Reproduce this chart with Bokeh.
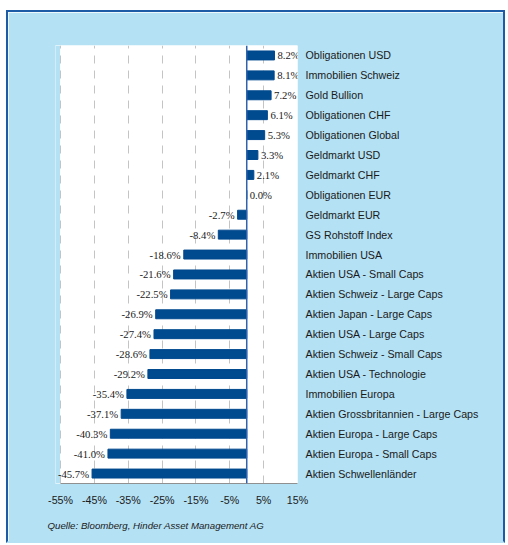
from bokeh.plotting import figure
from bokeh.models import ColumnDataSource, FactorRange, FixedTicker, Span, LabelSet, BoxAnnotation, Title
from bokeh.embed import file_html
from bokeh.resources import INLINE

categories = [
    "Obligationen USD", "Immobilien Schweiz", "Gold Bullion", "Obligationen CHF",
    "Obligationen Global", "Geldmarkt USD", "Geldmarkt CHF", "Obligationen EUR",
    "Geldmarkt EUR", "GS Rohstoff Index", "Immobilien USA", "Aktien USA - Small Caps",
    "Aktien Schweiz - Large Caps", "Aktien Japan - Large Caps", "Aktien USA - Large Caps",
    "Aktien Schweiz - Small Caps", "Aktien USA - Technologie", "Immobilien Europa",
    "Aktien Grossbritannien - Large Caps", "Aktien Europa - Large Caps",
    "Aktien Europa - Small Caps", "Aktien Schwellenländer",
]
values = [8.2, 8.1, 7.2, 6.1, 5.3, 3.3, 2.1, 0.0, -2.7, -8.4, -18.6, -21.6, -22.5,
          -26.9, -27.4, -28.6, -29.2, -35.4, -37.1, -40.3, -41.0, -45.7]
tick_values = [-55, -45, -35, -25, -15, -5, 5, 15]
tick_labels = ["-55%", "-45%", "-35%", "-25%", "-15%", "-5%", "5%", "15%"]
source_text = "Quelle: Bloomberg, Hinder Asset Management AG"

BG = "#b4e1f4"
BAR = "#004a8f"
FONT = "Liberation Sans"
X_START = -56.5

src = ColumnDataSource(dict(
    cat=categories,
    val=values,
    label=[f"{v:.1f}%" for v in values],
    align=["left" if v >= 0 else "right" for v in values],
    xoff=[3 if v >= 0 else -3 for v in values],
))

p = figure(
    width=499, height=533,
    y_range=FactorRange(factors=list(reversed(categories))),
    x_range=(X_START, 15),
    y_axis_location="right",
    output_backend="svg", toolbar_location=None,
    min_border_left=47, min_border_right=210, min_border_top=33, min_border_bottom=62,
    background_fill_color="white", border_fill_color=BG,
    outline_line_color=None,
    margin=(10, 0, 0, 6),
)
p.styles = {"border-top": "2px solid #1d5ba6", "border-left": "2px solid #1d5ba6",
            "border-right": "2px solid #1d5ba6", "border-bottom": "2px solid " + BG}

# light-blue strip left of the white plot area (keeps long labels unclipped)
p.add_layout(BoxAnnotation(left=X_START - 1, right=tick_values[0] - 0.15, fill_color=BG,
                           fill_alpha=1, line_color=None, level="glyph"))

p.hbar(y="cat", right="val", left=0, height=0.45, source=src, color=BAR)

p.add_layout(LabelSet(x="val", y="cat", text="label", source=src, text_align="align",
                      x_offset="xoff", text_baseline="middle", text_font=FONT,
                      text_font_size="10.7px", text_color="#1a1a1a"))

p.add_layout(Span(location=0, dimension="height", line_color="#2f63ad", line_width=1.5))

# grid
p.ygrid.visible = False
p.xgrid.ticker = FixedTicker(ticks=tick_values)
p.xgrid.grid_line_color = "#c4c4c4"
p.xgrid.grid_line_dash = "8 7"
p.xgrid.grid_line_width = 1

# x axis
xa = p.xaxis[0]
xa.ticker = FixedTicker(ticks=tick_values)
xa.bounds = (-55, 15)
xa.major_label_overrides = {t: l for t, l in zip(tick_values, tick_labels)}
xa.axis_line_color = "#909090"
xa.major_tick_line_color = None
xa.minor_tick_line_color = None
xa.major_label_text_font = FONT
xa.major_label_text_font_size = "10.7px"
xa.major_label_text_color = "#1a1a1a"
xa.major_label_standoff = 4

# y axis (right) with category names
ya = p.yaxis[0]
ya.axis_line_color = None
ya.major_tick_line_color = None
ya.minor_tick_line_color = None
ya.major_label_text_font = FONT
ya.major_label_text_font_size = "10.7px"
ya.major_label_text_color = "#1a1a1a"
ya.major_label_standoff = 2

p.add_layout(Title(text=source_text, align="left", offset=-8, standoff=18,
                   text_font=FONT, text_font_size="9.7px", text_font_style="italic",
                   text_color="#1a1a1a"), "below")

open("out.html", "w").write(file_html(p, INLINE))
